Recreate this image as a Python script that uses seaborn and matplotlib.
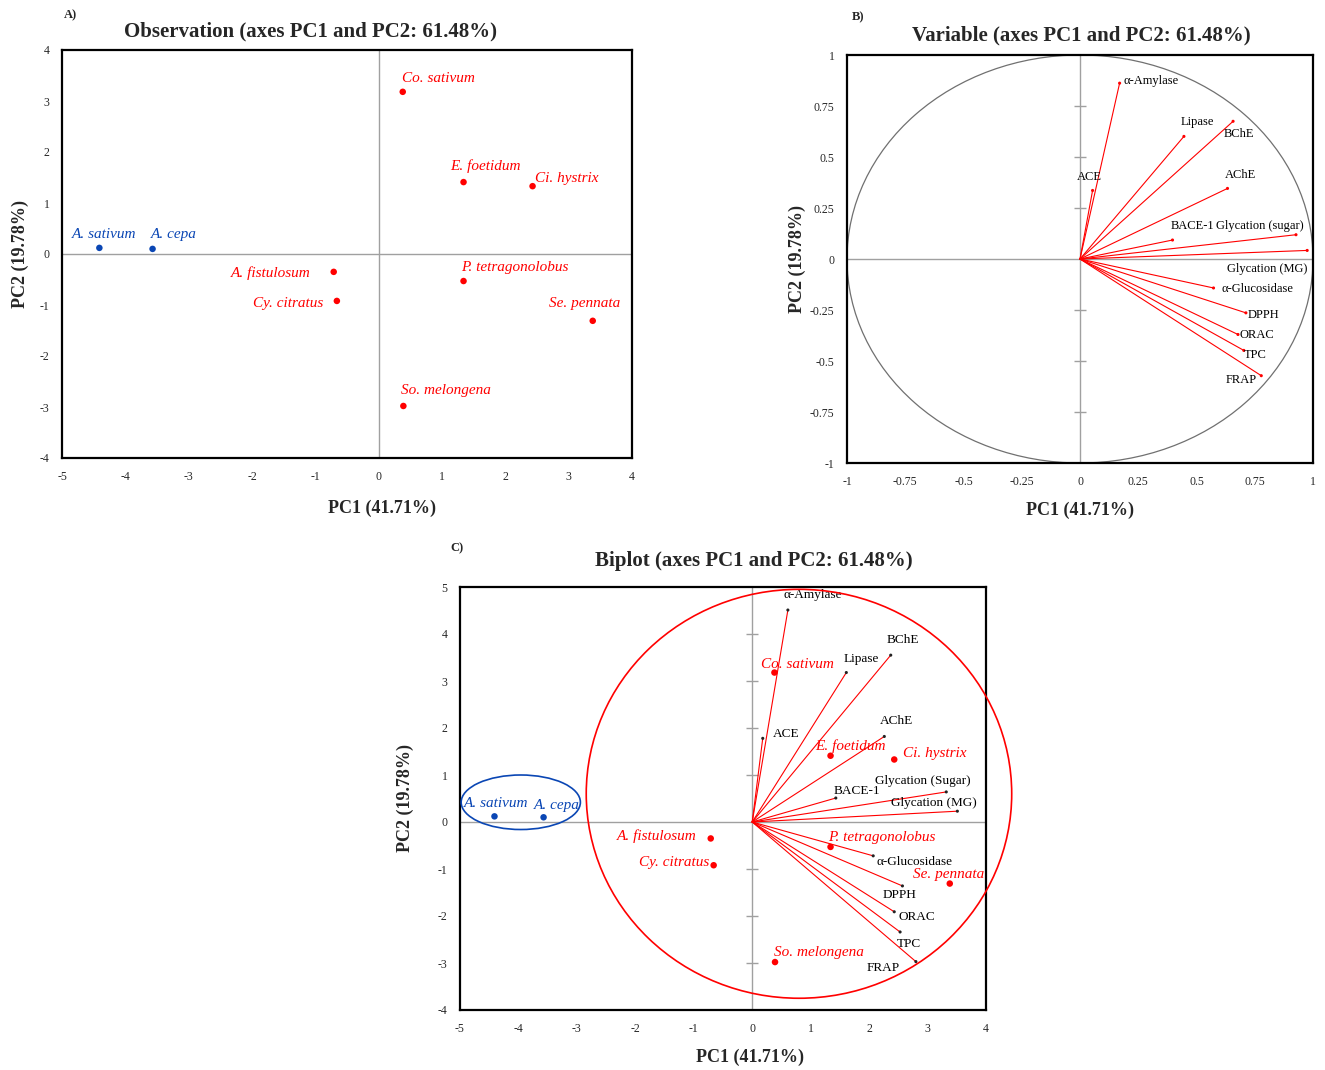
import numpy as np
import pandas as pd
import matplotlib
matplotlib.use("Agg")
import matplotlib.pyplot as plt
import seaborn as sns
from matplotlib.patches import Ellipse, Circle

# ---------------- data ----------------
obs_names = ["Co. sativum", "E. foetidum", "Ci. hystrix", "A. sativum", "A. cepa",
             "A. fistulosum", "Cy. citratus", "P. tetragonolobus", "Se. pennata", "So. melongena"]
obs_pc1 = [0.38, 1.34, 2.43, -4.41, -3.57, -0.71, -0.66, 1.34, 3.38, 0.39]
obs_pc2 = [3.18, 1.41, 1.33, 0.12, 0.10, -0.35, -0.92, -0.53, -1.31, -2.98]
obs_group = ["other", "other", "other", "allium", "allium",
             "other", "other", "other", "other", "other"]

var_names_b = ["α-Amylase", "Lipase", "BChE", "ACE", "AChE", "BACE-1", "Glycation (sugar)",
               "Glycation (MG)", "α-Glucosidase", "DPPH", "ORAC", "TPC", "FRAP"]
var_names_c = ["α-Amylase", "Lipase", "BChE", "ACE", "AChE", "BACE-1", "Glycation (Sugar)",
               "Glycation (MG)", "α-Glucosidase", "DPPH", "ORAC", "TPC", "FRAP"]
var_pc1 = [0.170, 0.446, 0.657, 0.054, 0.633, 0.397, 0.927, 0.975, 0.573, 0.712, 0.678, 0.703, 0.778]
var_pc2 = [0.862, 0.601, 0.675, 0.336, 0.346, 0.093, 0.119, 0.042, -0.142, -0.264, -0.370, -0.448, -0.572]
bi_pc1 = [0.61, 1.61, 2.37, 0.18, 2.26, 1.43, 3.32, 3.51, 2.07, 2.57, 2.43, 2.53, 2.80]
bi_pc2 = [4.51, 3.18, 3.55, 1.78, 1.82, 0.51, 0.64, 0.23, -0.72, -1.36, -1.91, -2.34, -2.97]

ticks_a_x = [-5, -4, -3, -2, -1, 0, 1, 2, 3, 4]
ticks_a_y = [-4, -3, -2, -1, 0, 1, 2, 3, 4]
ticks_b = [-1, -0.75, -0.5, -0.25, 0, 0.25, 0.5, 0.75, 1]
ticks_c_x = [-5, -4, -3, -2, -1, 0, 1, 2, 3, 4]
ticks_c_y = [-4, -3, -2, -1, 0, 1, 2, 3, 4, 5]

obs_df = pd.DataFrame({"name": obs_names, "PC1": obs_pc1, "PC2": obs_pc2, "group": obs_group})
var_df = pd.DataFrame({"PC1": var_pc1, "PC2": var_pc2})
bi_df = pd.DataFrame({"PC1": bi_pc1, "PC2": bi_pc2})

# ---------------- label placement (pixel offsets, ha) ----------------
off_a = [(-1, 13, "left"), (-13, 16, "left"), (2, 8, "left"), (5, 13, "center"), (-2, 14, "left"),
         (-23, -1, "right"), (-14, -3, "right"), (-2, 14, "left"), (-8, 17, "center"), (-2, 15, "left")]
off_c_obs = [(-13, 8, "left"), (-15, 10, "left"), (9, 6, "left"), (2, 13, "center"), (-10, 12, "left"),
             (-14, 2, "right"), (-4, 3, "right"), (-2, 9, "left"), (-1, 9, "center"), (-1, 10, "left")]
off_b_var = [(4, 2, "left"), (-3, 14, "left"), (-9, -13, "left"), (-3, 13, "center"), (-3, 13, "left"),
             (-2, 14, "left"), (8, 9, "right"), (0, -19, "right"), (8, -1, "left"), (2, -2, "left"),
             (2, -1, "left"), (0, -5, "left"), (-4, -4, "right")]
off_c_var = [(-4, 15, "left"), (-3, 14, "left"), (-4, 15, "left"), (10, 4, "left"), (-4, 15, "left"),
             (-2, 7, "left"), (-23, 11, "center"), (-23, 8, "center"), (3, -6, "left"), (-3, -9, "center"),
             (4, -5, "left"), (-3, -12, "left"), (-16, -6, "right")]

RED = "#ff0000"
BLUE = "#0a46b4"
GRAY = "#a0a0a0"
PX = 0.72

sns.set_theme(style="white")
plt.rcParams["font.family"] = ["Liberation Serif", "DejaVu Serif"]
plt.rcParams["axes.unicode_minus"] = False

W, H = 1325, 1070
fig = plt.figure(figsize=(W / 100, H / 100), dpi=100)
fig.patch.set_facecolor("white")


def rect(l, r, t, b):
    return [l / W, 1 - b / H, (r - l) / W, (b - t) / H]


def style_axes(ax, xt, yt, xl, yl, fmt=None):
    ax.set_xlim(xl)
    ax.set_ylim(yl)
    ax.set_xticks(xt)
    ax.set_yticks(yt)
    if fmt:
        ax.set_xticklabels([fmt(v) for v in xt])
        ax.set_yticklabels([fmt(v) for v in yt])
    ax.tick_params(length=0, labelsize=8.5, pad=9)
    for s in ax.spines.values():
        s.set_visible(True)
        s.set_color("black")
        s.set_linewidth(1.6)
    ax.axhline(0, color=GRAY, lw=1, zorder=1)
    ax.axvline(0, color=GRAY, lw=1, zorder=1)
    ax.set_xlabel("")
    ax.set_ylabel("")
    ax.grid(False)


def obs_layer(ax, offsets):
    pal = {"allium": BLUE, "other": RED}
    sns.scatterplot(data=obs_df, x="PC1", y="PC2", hue="group", palette=pal, s=22,
                    edgecolor="none", legend=False, ax=ax, zorder=4)
    for i, r in obs_df.iterrows():
        dx, dy, ha = offsets[i]
        ax.annotate(r["name"], (r["PC1"], r["PC2"]), xytext=(dx * PX, dy * PX),
                    textcoords="offset points", ha=ha, va="center", fontsize=11,
                    style="italic", color=pal[r["group"]], zorder=5)


def var_layer(ax, df, names, offsets, tipcolor, fs):
    for i, r in df.iterrows():
        ax.plot([0, r["PC1"]], [0, r["PC2"]], color=RED, lw=0.8, zorder=3)
    sns.scatterplot(data=df, x="PC1", y="PC2", color=tipcolor, s=5, edgecolor="none",
                    legend=False, ax=ax, zorder=4)
    for i, r in df.iterrows():
        dx, dy, ha = offsets[i]
        ax.annotate(names[i], (r["PC1"], r["PC2"]), xytext=(dx * PX, dy * PX),
                    textcoords="offset points", ha=ha, va="center", fontsize=fs,
                    color="black", zorder=5)


# ---------- Panel A ----------
axA = fig.add_axes(rect(62, 632, 50, 458))
style_axes(axA, ticks_a_x, ticks_a_y, (-5, 4), (-4, 4))
obs_layer(axA, off_a)
axA.set_xlabel("")
axA.set_ylabel("")

# ---------- Panel B ----------
axB = fig.add_axes(rect(847, 1313, 55, 463))
style_axes(axB, ticks_b, ticks_b, (-1, 1), (-1, 1), fmt=lambda v: f"{v:g}")
axB.add_patch(Circle((0, 0), 1, fill=False, ec="#707070", lw=0.9, zorder=2))
minor_b = [t for t in ticks_b if t not in (0, -1, 1)]
axB.plot(np.zeros(len(minor_b)), minor_b, ls="none", marker="_", ms=9, mew=1, color=GRAY, zorder=1)
var_layer(axB, var_df, var_names_b, off_b_var, RED, 9)
axB.set_xlabel("")
axB.set_ylabel("")

# ---------- Panel C ----------
axC = fig.add_axes(rect(460, 986, 587, 1010))
style_axes(axC, ticks_c_x, ticks_c_y, (-5, 4), (-4, 5))
minor_c = [t for t in ticks_c_y if t not in (0, -4, 5)]
axC.plot(np.zeros(len(minor_c)), minor_c, ls="none", marker="_", ms=9, mew=1, color=GRAY, zorder=1)
var_layer(axC, bi_df, var_names_c, off_c_var, "#222222", 9.5)
obs_layer(axC, off_c_obs)
axC.add_patch(Ellipse((0.8, 0.6), 7.28, 8.7, fill=False, ec=RED, lw=1.2, clip_on=False, zorder=6))
axC.add_patch(Ellipse((-3.96, 0.42), 2.04, 1.16, fill=False, ec=BLUE, lw=1.2, clip_on=False, zorder=6))
axC.set_xlabel("")
axC.set_ylabel("")

# ---------- texts ----------
def ft(x, y, s, **kw):
    fig.text(x / W, 1 - y / H, s, **kw)

ft(310, 31, "Observation (axes PC1 and PC2: 61.48%)", ha="center", va="center", fontsize=15, weight="bold")
ft(1081, 35, "Variable (axes PC1 and PC2: 61.48%)", ha="center", va="center", fontsize=15, weight="bold")
ft(754, 561, "Biplot (axes PC1 and PC2: 61.48%)", ha="center", va="center", fontsize=15, weight="bold")

ft(382, 508, "PC1 (41.71%)", ha="center", va="center", fontsize=13, weight="bold")
ft(20, 254, "PC2 (19.78%)", ha="center", va="center", fontsize=13, weight="bold", rotation=90)
ft(1080, 510, "PC1 (41.71%)", ha="center", va="center", fontsize=13, weight="bold")
ft(797, 259, "PC2 (19.78%)", ha="center", va="center", fontsize=13, weight="bold", rotation=90)
ft(750, 1057, "PC1 (41.71%)", ha="center", va="center", fontsize=13, weight="bold")
ft(405, 798, "PC2 (19.78%)", ha="center", va="center", fontsize=13, weight="bold", rotation=90)

ft(70, 15, "A)", ha="center", va="center", fontsize=9, weight="bold")
ft(858, 17, "B)", ha="center", va="center", fontsize=9, weight="bold")
ft(457, 548, "C)", ha="center", va="center", fontsize=9, weight="bold")

fig.savefig("out.png", dpi=100, facecolor="white")
